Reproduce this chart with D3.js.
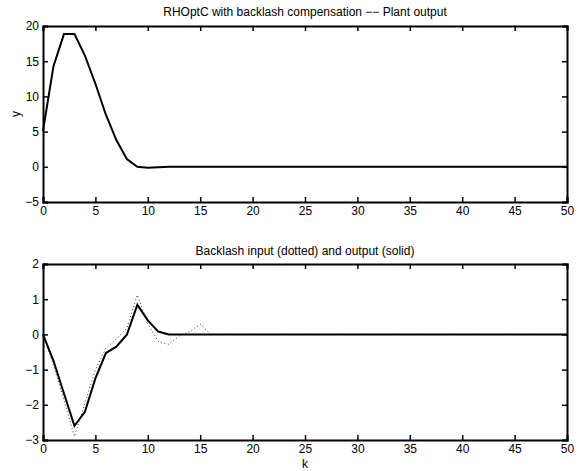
<!DOCTYPE html>
<html>
<head>
<meta charset="utf-8">
<script src="https://cdn.jsdelivr.net/npm/d3@7"></script>
<style>
  body { margin: 0; background: #fff; }
  text { font-family: "Liberation Sans", Arial, sans-serif; font-size: 12px; fill: #000; }
</style>
</head>
<body>
<svg id="chart" width="587" height="471"></svg>
<script>
// sample index k
const kValues = d3.range(0, 51);

// plant output y (top panel), zero after k = 12
const plantHead = [5.1, 14.3, 18.85, 18.85, 15.8, 11.8, 7.4, 3.8, 1.1, 0, -0.15, -0.05, 0];
// backlash output (solid) and input (dotted)
const backlashOutHead = [0, -0.75, -1.68, -2.6, -2.2, -1.25, -0.53, -0.35, -0.01, 0.84, 0.4, 0.08, 0];
const backlashInHead = [0, -0.87, -1.87, -2.9, -1.95, -1.01, -0.39, -0.13, 0.18, 1.12, 0.3, -0.2, -0.28, -0.04, 0.08, 0.29, 0];

const topTicksY = [-5, 0, 5, 10, 15, 20];
const bottomTicksY = [-3, -2, -1, 0, 1, 2];
const ticksX = d3.range(0, 55, 5);

function pad(head) {
  return kValues.map(k => k < head.length ? head[k] : 0);
}
const plant = pad(plantHead);
const backlashOut = pad(backlashOutHead);
const backlashIn = pad(backlashInHead);

const svg = d3.select('#chart');
const left = 43, right = 567;

const x = d3.scaleLinear().domain([0, 50]).range([left, right]);

function panel(top, bottom, yDomain, yTicks, title, titleGap) {
  const y = d3.scaleLinear().domain(yDomain).range([bottom, top]);
  const g = svg.append('g');
  const fmt = d => d < 0 ? '\u2212' + Math.abs(d) : String(d);

  // ticks on all four sides, pointing inward
  g.append('g').attr('transform', `translate(0,${bottom})`)
    .call(d3.axisBottom(x).tickValues(ticksX).tickSize(-5).tickPadding(4).tickFormat(fmt));
  g.append('g').attr('transform', `translate(0,${top})`)
    .call(d3.axisTop(x).tickValues(ticksX).tickSize(-5).tickFormat(''));
  g.append('g').attr('transform', `translate(${left},0)`)
    .call(d3.axisLeft(y).tickValues(yTicks).tickSize(-5).tickPadding(4).tickFormat(fmt));
  g.append('g').attr('transform', `translate(${right},0)`)
    .call(d3.axisRight(y).tickValues(yTicks).tickSize(-5).tickFormat(''));

  g.selectAll('.domain').attr('stroke', '#000').attr('stroke-width', 2);
  g.selectAll('.tick line').attr('stroke', '#000').attr('stroke-width', 1.5);
  g.selectAll('.tick text').style('font-size', '12px')
    .style('font-family', '"Liberation Sans", Arial, sans-serif');

  g.append('text').attr('x', (left + right) / 2).attr('y', top - titleGap)
    .attr('text-anchor', 'middle').text(title);
  return { g, y };
}

const topPanel = panel(26, 202, [-5, 20], topTicksY,
  'RHOptC with backlash compensation \u2212\u2212 Plant output', 10);
const bottomPanel = panel(264, 440, [-3, 2], bottomTicksY,
  'Backlash input (dotted) and output (solid)', 9);

const lineTop = d3.line().x((d, i) => x(kValues[i])).y(d => topPanel.y(d));
const lineBottom = d3.line().x((d, i) => x(kValues[i])).y(d => bottomPanel.y(d));

topPanel.g.append('path').datum(plant)
  .attr('d', lineTop).attr('fill', 'none').attr('stroke', '#000').attr('stroke-width', 2);

bottomPanel.g.append('path').datum(backlashIn)
  .attr('d', lineBottom).attr('fill', 'none').attr('stroke', '#333')
  .attr('stroke-width', 1).attr('stroke-dasharray', '1,2.5');
bottomPanel.g.append('path').datum(backlashOut)
  .attr('d', lineBottom).attr('fill', 'none').attr('stroke', '#000').attr('stroke-width', 2);

// axis labels
svg.append('text').attr('transform', 'translate(20,114) rotate(-90)')
  .attr('text-anchor', 'middle').text('y');
svg.append('text').attr('x', (left + right) / 2).attr('y', 468)
  .attr('text-anchor', 'middle').text('k');
</script>
</body>
</html>
